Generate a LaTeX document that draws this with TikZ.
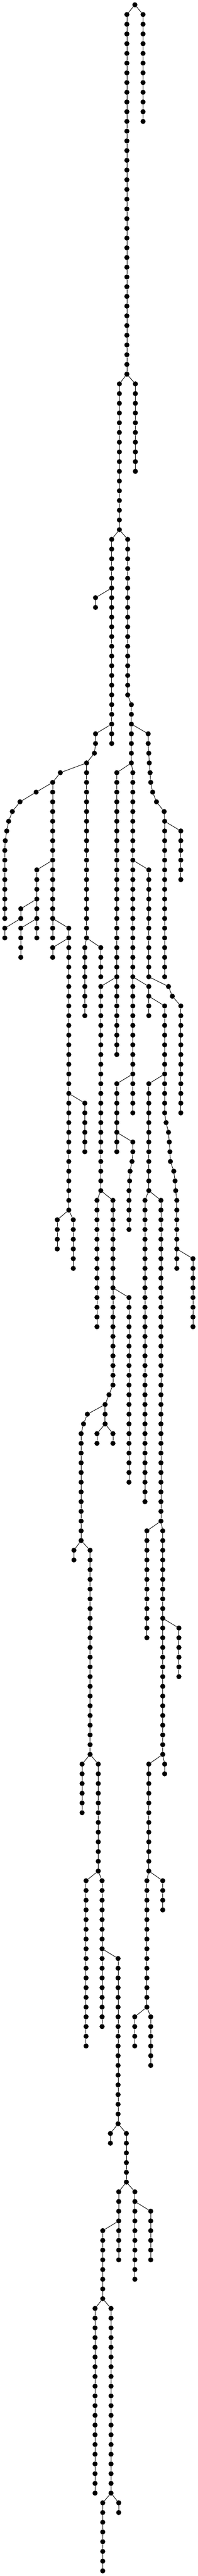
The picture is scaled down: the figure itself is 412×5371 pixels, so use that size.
\documentclass[tikz,border=0pt]{standalone}
\tikzset{
  dot/.style={circle,fill=black,draw=none,inner sep=0pt,minimum size=10.6pt},
  link/.style={draw=black,line width=1pt}
}
% vertical chain: name, x, first level, last level
\newcommand\vchain[4]{%
  \foreach \L in {#3,...,#4}{\node[dot] (#1-\L) at (#2,{10+20.266*\L}) {};}%
  \ifnum#3<#4\relax
    \pgfmathtruncatemacro\vcA{#3+1}%
    \foreach \L in {\vcA,...,#4}{\pgfmathtruncatemacro\Lp{\L-1}\draw[link] (#1-\Lp) -- (#1-\L);}%
  \fi}
% chain with varying x: name, first level, list of x
\newcommand\pchain[3]{%
  \foreach \xx [count=\i from 0] in {#3}{%
    \pgfmathtruncatemacro\L{#2+\i}%
    \node[dot] (#1-\L) at (\xx,{10+20.266*\L}) {};%
    \ifnum\i>0 \pgfmathtruncatemacro\Lp{\L-1}\draw[link] (#1-\Lp) -- (#1-\L);\fi}}
\newcommand\lnk[2]{\draw[link] (#1) -- (#2);}
\begin{document}
\begin{tikzpicture}[x=1pt,y=-1pt]
\fill[white] (0,0) rectangle (412,5371);
\useasboundingbox (0,0) rectangle (412,5371);
\vchain{r}{281}{0}{0}
\vchain{c1}{264.3}{1}{38} \lnk{r-0}{c1-1}
\vchain{c2}{298}{1}{12} \lnk{r-0}{c2-1}
\vchain{c3}{248.7}{39}{54} \lnk{c1-38}{c3-39}
\vchain{c4}{282}{39}{48} \lnk{c1-38}{c4-39}
\vchain{c5}{232.7}{55}{76} \lnk{c3-54}{c5-55}
\vchain{c6}{199}{61}{62} \lnk{c5-60}{c6-61}
\vchain{c7}{266}{55}{71} \vchain{c7}{273.7}{72}{78} \lnk{c3-54}{c7-55} \lnk{c7-71}{c7-72}
\vchain{c8}{199}{75}{76} \vchain{c8}{196.7}{77}{77} \vchain{c8}{180.3}{78}{96}
\lnk{c5-74}{c8-75} \lnk{c8-76}{c8-77} \lnk{c8-77}{c8-78}
\vchain{c9}{125.7}{79}{79} \vchain{c9}{109.7}{80}{96} \lnk{c8-78}{c9-79} \lnk{c9-79}{c9-80}
\pchain{c10}{81}{75.3,41.7,25.7,18,14,11} \vchain{c10}{10}{87}{94} \lnk{c10-86}{c10-87} \lnk{c9-80}{c10-81}
\vchain{c11}{76.7}{89}{96} \lnk{c9-88}{c11-89}
\vchain{c12}{43.3}{93}{94} \lnk{c11-92}{c12-93}
\vchain{c13}{10}{95}{96} \lnk{c12-94}{c13-95}
\vchain{c14}{43.3}{95}{98} \lnk{c11-94}{c14-95}
\vchain{c15}{143.3}{95}{124} \lnk{c9-94}{c15-95}
\vchain{c16}{109.7}{97}{98} \lnk{c15-96}{c16-97}
\vchain{c17}{176.7}{97}{104} \lnk{c8-96}{c17-97}
\vchain{c18}{210}{97}{100} \lnk{c8-96}{c18-97}
\vchain{c19}{243.3}{79}{108} \lnk{c7-78}{c19-79}
\vchain{c20}{210}{101}{122} \lnk{c19-100}{c20-101}
\vchain{c21}{276.7}{79}{114} \lnk{c7-78}{c21-79}
\pchain{c22}{75}{308.7,308.7,310,311,312.7,314,318,326,342} \vchain{c22}{343}{84}{100}
\lnk{c22-83}{c22-84} \lnk{c7-74}{c22-75}
\vchain{c23}{376.7}{85}{90} \lnk{c22-84}{c23-85}
\vchain{c24}{310}{89}{100} \lnk{c21-88}{c24-89}
\pchain{c25}{101}{351,359} \vchain{c25}{376.7}{103}{114} \lnk{c25-102}{c25-103} \lnk{c24-100}{c25-101}
\vchain{c26}{310}{101}{104} \lnk{c21-100}{c26-101}
\vchain{c27}{343}{103}{114} \pchain{c27}{115}{346,351,352.7,354,355,362,364.7,366} \vchain{c27}{368.3}{123}{130}
\lnk{c27-114}{c27-115} \lnk{c27-122}{c27-123} \lnk{c26-102}{c27-103}
\vchain{c28}{243.3}{111}{118} \lnk{c21-110}{c28-111}
\vchain{c29}{310}{111}{122} \lnk{c27-110}{c29-111}
\vchain{c30}{176.7}{113}{118} \lnk{c15-112}{c30-113}
\vchain{c31}{119.3}{125}{128} \lnk{c15-124}{c31-125}
\vchain{c32}{152.7}{125}{130} \lnk{c15-124}{c32-125}
\vchain{c33}{202}{123}{136} \lnk{c20-122}{c33-123}
\vchain{c34}{235.3}{123}{142} \vchain{c34}{227}{143}{143} \vchain{c34}{219}{144}{146}
\lnk{c34-142}{c34-143} \lnk{c34-143}{c34-144} \lnk{c20-122}{c34-123}
\pchain{c35}{117}{276.7,276.7,275,271,270} \vchain{c35}{268.7}{122}{126} \lnk{c35-121}{c35-122} \lnk{c28-116}{c35-117}
\vchain{c36}{302}{123}{154} \lnk{c29-122}{c36-123}
\vchain{c37}{335.3}{123}{156} \vchain{c37}{339}{157}{180} \lnk{c37-156}{c37-157} \lnk{c29-122}{c37-123}
\vchain{c38}{402}{129}{136} \lnk{c27-128}{c38-129}
\vchain{c39}{268.7}{133}{152} \lnk{c34-132}{c39-133}
\pchain{c40}{145}{182,174} \vchain{c40}{169}{147}{158} \lnk{c40-146}{c40-147} \lnk{c34-144}{c40-145}
\vchain{c41}{202}{147}{148} \lnk{c34-146}{c41-147}
\vchain{c42}{235.3}{147}{148} \lnk{c34-146}{c42-147}
\vchain{c43}{154}{159}{160} \lnk{c40-158}{c43-159}
\vchain{c44}{187.7}{159}{180} \lnk{c40-158}{c44-159}
\vchain{c45}{306}{157}{168} \lnk{c37-156}{c45-157}
\vchain{c46}{372.7}{167}{172} \lnk{c37-166}{c46-167}
\vchain{c47}{171}{181}{186} \lnk{c44-180}{c47-181}
\vchain{c48}{204.7}{181}{192} \lnk{c44-180}{c48-181}
\vchain{c49}{179.3}{193}{210} \lnk{c48-192}{c49-193}
\vchain{c50}{212.7}{193}{208} \lnk{c48-192}{c50-193}
\vchain{c51}{310}{181}{192} \lnk{c37-180}{c51-181}
\vchain{c52}{343}{181}{182} \lnk{c37-180}{c52-181}
\vchain{c53}{306}{193}{206} \lnk{c51-192}{c53-193}
\vchain{c54}{339}{193}{196} \lnk{c51-192}{c54-193}
\vchain{c55}{246}{201}{218} \lnk{c50-200}{c55-201}
\vchain{c56}{280.7}{207}{210} \lnk{c53-206}{c56-207}
\vchain{c57}{314}{207}{212} \lnk{c53-206}{c57-207}
\vchain{c58}{230}{219}{220} \lnk{c55-218}{c58-219}
\vchain{c59}{263.3}{219}{224} \lnk{c55-218}{c59-219}
\vchain{c60}{247.3}{225}{232} \lnk{c59-224}{c60-225}
\vchain{c61}{281}{225}{234} \lnk{c59-224}{c61-225}
\vchain{c62}{314}{227}{232} \lnk{c61-226}{c62-227}
\vchain{c63}{214}{229}{236} \lnk{c60-228}{c63-229}
\vchain{c64}{198}{237}{256} \lnk{c63-236}{c64-237}
\vchain{c65}{231.3}{237}{256} \lnk{c63-236}{c65-237}
\vchain{c66}{214}{257}{264} \lnk{c65-256}{c66-257}
\vchain{c67}{247.3}{257}{258} \lnk{c65-256}{c67-257}
\end{tikzpicture}
\end{document}
